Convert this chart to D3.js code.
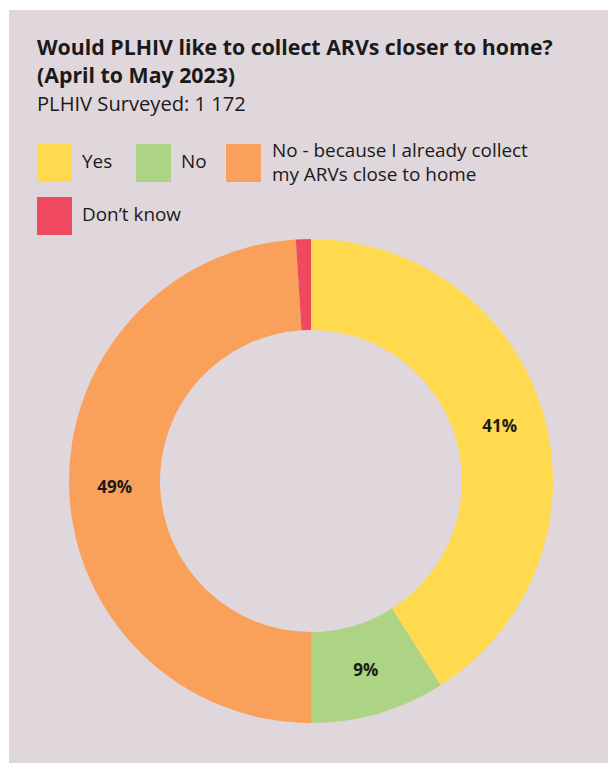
<!DOCTYPE html>
<html>
<head>
<meta charset="utf-8">
<script src="https://cdn.jsdelivr.net/npm/d3@7"></script>
<style>
  html, body { margin: 0; padding: 0; background: #ffffff; }
  svg { display: block; font-family: "Open Sans", "Noto Sans", sans-serif; }
</style>
</head>
<body>
<svg id="chart" width="608" height="763"></svg>
<script>
const categories = ["Yes", "No", "No - because I already collect my ARVs close to home", "Don\u2019t know"];
const values = [41, 9, 49, 1];
const colors = ["#ffda4f", "#add384", "#f9a15b", "#f0485e"];
const shownLabels = ["41%", "9%", "49%", ""];

const svg = d3.select("#chart");
const width = 608, height = 763;

// panel
svg.append("rect")
    .attr("x", 9).attr("y", 10)
    .attr("width", width - 9).attr("height", height - 10)
    .attr("fill", "#e0d7dc");

// fit a text element to a target width
function fitText(sel, target) {
    const w = sel.node().getComputedTextLength();
    const fs = parseFloat(sel.attr("font-size"));
    sel.attr("font-size", fs * target / w);
}

const title1 = svg.append("text")
    .attr("x", 37).attr("y", 55)
    .attr("font-size", 18).attr("font-weight", "bold").attr("fill", "#1a1a1a")
    .text("Would PLHIV like to collect ARVs closer to home?");
fitText(title1, 516);
const fsTitle = title1.attr("font-size");

svg.append("text")
    .attr("x", 37).attr("y", 83)
    .attr("font-size", fsTitle).attr("font-weight", "bold").attr("fill", "#1a1a1a")
    .text("(April to May 2023)");

const sub = svg.append("text")
    .attr("x", 37).attr("y", 111)
    .attr("font-size", 18).attr("fill", "#1a1a1a")
    .text("PLHIV Surveyed: 1 172");
fitText(sub, 209);

// legend
const legendItems = [
    { x: 37, y: 144, lines: ["Yes"], i: 0 },
    { x: 136, y: 144, lines: ["No"], i: 1 },
    { x: 226, y: 144, lines: ["No - because I already collect", "my ARVs close to home"], i: 2 },
    { x: 37, y: 197, lines: ["Don\u2019t know"], i: 3 }
];
let legendFs = null;
legendItems.forEach((d) => {
    const g = svg.append("g").attr("class", "legend").attr("transform", `translate(${d.x},${d.y})`);
    g.append("rect")
        .attr("width", 35).attr("height", 38)
        .attr("fill", colors[d.i]);
    if (d.lines.length === 1) {
        g.append("text")
            .attr("x", 45).attr("y", 24)
            .attr("fill", "#1a1a1a")
            .text(d.lines[0]);
    } else {
        const t = g.append("text")
            .attr("x", 46).attr("y", 13)
            .attr("font-size", 17).attr("fill", "#1a1a1a")
            .text(d.lines[0]);
        fitText(t, 256);
        legendFs = t.attr("font-size");
        g.append("text")
            .attr("x", 46).attr("y", 37)
            .attr("fill", "#1a1a1a")
            .text(d.lines[1]);
    }
});
svg.selectAll("g.legend text").attr("font-size", legendFs);

// donut
const cx = 311, cy = 481, outerR = 242, innerR = 151;
const pie = d3.pie().sort(null).value((d) => d);
const arc = d3.arc().innerRadius(innerR).outerRadius(outerR);
const arcs = pie(values);

const donut = svg.append("g").attr("transform", `translate(${cx},${cy})`);
donut.selectAll("path")
    .data(arcs)
    .enter()
    .append("path")
    .attr("d", arc)
    .attr("fill", (d, i) => colors[i]);

donut.selectAll("text.pct")
    .data(arcs)
    .enter()
    .append("text")
    .attr("class", "pct")
    .attr("transform", (d) => `translate(${arc.centroid(d)})`)
    .attr("text-anchor", "middle")
    .attr("dy", "0.35em")
    .attr("font-size", 17)
    .attr("font-weight", "bold")
    .attr("fill", "#1a1a1a")
    .text((d, i) => shownLabels[i]);
</script>
</body>
</html>
